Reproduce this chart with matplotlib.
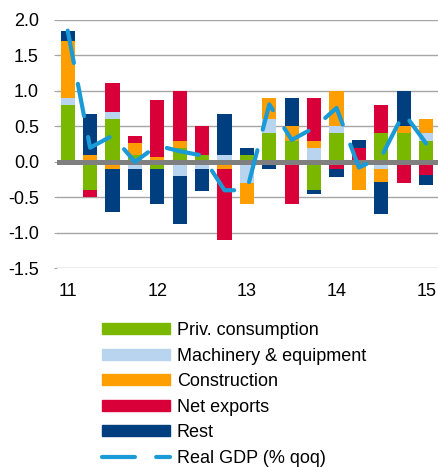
import numpy as np
import matplotlib
matplotlib.use("Agg")
import matplotlib.pyplot as plt
from matplotlib.lines import Line2D
from matplotlib.patches import Patch

plt.rcParams["font.family"] = ["Liberation Sans", "DejaVu Sans"]

# quarters 2011 Q1 .. 2015 Q1
quarters = ["11Q1", "11Q2", "11Q3", "11Q4", "12Q1", "12Q2", "12Q3", "12Q4",
            "13Q1", "13Q2", "13Q3", "13Q4", "14Q1", "14Q2", "14Q3", "14Q4", "15Q1"]
year_labels = ["11", "12", "13", "14", "15"]

priv_cons = [0.80, -0.40, 0.60, 0.10, -0.10, 0.20, 0.10, 0.00, 0.10, 0.40, 0.30, -0.40, 0.40, 0.00, 0.40, 0.40, 0.30]
machinery = [0.10, 0.00, 0.10, -0.10, 0.00, -0.20, -0.10, 0.10, -0.30, 0.20, 0.00, 0.20, 0.10, 0.00, -0.10, 0.00, 0.10]
construction = [0.80, 0.10, -0.10, 0.17, 0.07, 0.10, 0.00, -0.10, -0.30, 0.30, 0.20, 0.10, 0.50, -0.40, -0.19, 0.10, 0.20]
net_exports = [0.00, -0.10, 0.41, 0.10, 0.80, 0.70, 0.40, -1.00, 0.00, 0.00, -0.59, 0.60, -0.10, 0.20, 0.40, -0.30, -0.19]
rest = [0.14, 0.58, -0.61, -0.30, -0.49, -0.67, -0.31, 0.58, 0.10, -0.10, 0.40, -0.05, -0.11, 0.11, -0.44, 0.50, -0.13]
real_gdp = [1.85, 0.20, 0.37, 0.00, 0.23, 0.15, 0.09, -0.40, -0.40, 0.81, 0.31, 0.48, 0.76, -0.08, 0.07, 0.69, 0.26]

names = ["Priv. consumption", "Machinery & equipment", "Construction", "Net exports", "Rest"]
series = [priv_cons, machinery, construction, net_exports, rest]
colors = ["#7ab800", "#b8d4ee", "#ff9e00", "#d9003a", "#003f7f"]
gdp_color = "#1a9bd7"

fig = plt.figure(figsize=(4.38, 4.67), dpi=100)
ax = fig.add_axes([0.130, 0.4255, 0.870, 0.5317])

x = np.arange(len(quarters))
pos_base = np.zeros(len(x))
neg_base = np.zeros(len(x))
for vals, col in zip(series, colors):
    v = np.array(vals)
    pos = np.where(v > 0, v, 0)
    neg = np.where(v < 0, v, 0)
    ax.bar(x, pos, 0.63, bottom=pos_base, color=col, zorder=2)
    ax.bar(x, neg, 0.63, bottom=neg_base, color=col, zorder=2)
    pos_base += pos
    neg_base += neg

ax.axhline(0, color="#7f7f7f", lw=3.6, zorder=3)
ax.plot(x, real_gdp, color=gdp_color, lw=3, zorder=4,
        linestyle=(0, (7.9, 5.1)), dash_capstyle="round", solid_capstyle="round")

ax.set_xlim(-0.48, 16.53)
ax.set_ylim(-1.5, 2.0)
ax.set_yticks(np.arange(-1.5, 2.01, 0.5))
ax.set_yticklabels([f"{t:.1f}" for t in np.arange(-1.5, 2.01, 0.5)])
ax.set_xticks([0, 4, 8, 12, 16])
ax.set_xticklabels(year_labels)
ax.yaxis.grid(True, color="#a6a6a6", lw=1)
ax.set_axisbelow(True)
for s in ax.spines.values():
    s.set_visible(False)
ax.tick_params(axis="y", length=2, color="#a6a6a6", pad=11, labelsize=13)
ax.tick_params(axis="x", length=0, pad=10.5, labelsize=13)

handles = [Patch(color=c) for c in colors]
handles.append(Line2D([0], [0], color=gdp_color, lw=3, linestyle=(0, (7.9, 5.1)),
                      dash_capstyle="round"))
fig.legend(handles, names + ["Real GDP (% qoq)"], loc="upper left",
           bbox_to_anchor=(0.232, 0.3103), frameon=False, fontsize=13,
           handlelength=3.77, handleheight=0.55, handletextpad=0.39,
           labelspacing=0.47, borderpad=0, borderaxespad=0)

fig.savefig("out.png", dpi=100)
